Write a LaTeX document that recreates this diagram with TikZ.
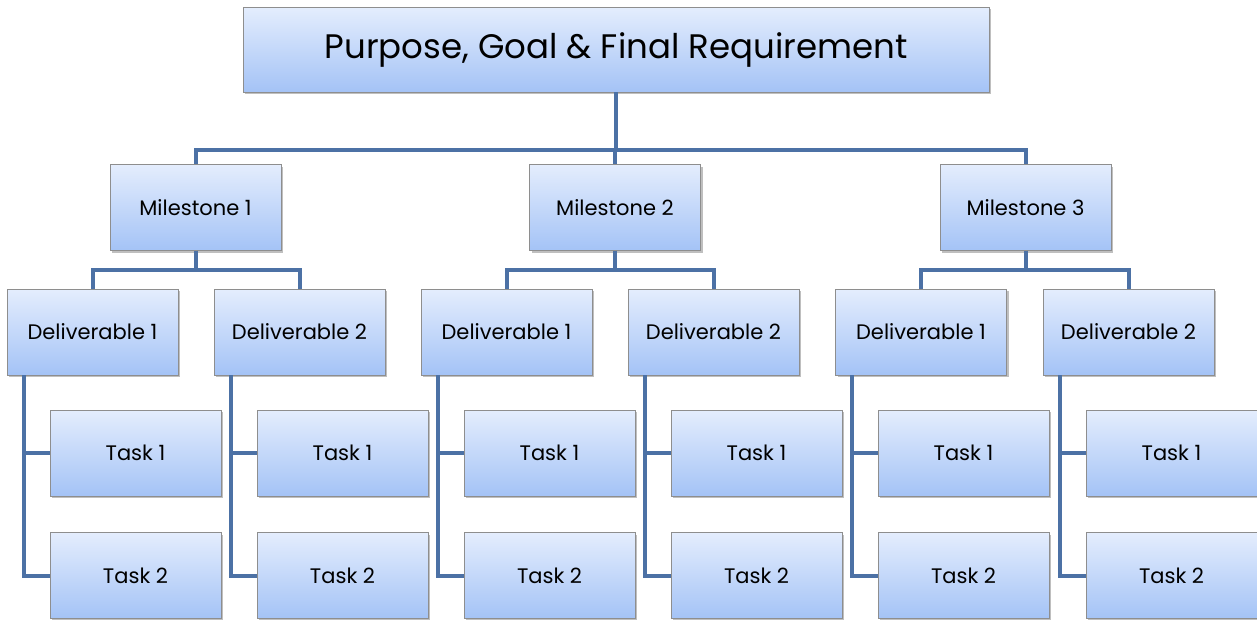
\documentclass[tikz,border=0pt]{standalone}
\usepackage{fontspec}
\setmainfont{Poppins}
\usetikzlibrary{shadows}

\definecolor{boxtop}{HTML}{E4EDFD}
\definecolor{boxbottom}{HTML}{A4C3F6}
\definecolor{boxedge}{HTML}{8E8E8E}
\definecolor{linkblue}{HTML}{4C71A5}

\begin{document}
\begin{tikzpicture}[x=1pt,y=-1pt,
    wbs/.style ={rectangle, draw=boxedge, line width=0.8pt, top color=boxtop, bottom color=boxbottom,
                 drop shadow={shadow xshift=2pt, shadow yshift=-2pt, fill=black, opacity=0.25},
                 minimum width=171pt, minimum height=86pt, inner sep=0pt, font=\fontsize{21}{24}\selectfont},
    goal/.style ={wbs, minimum width=746pt, minimum height=85pt, font=\fontsize{34}{40}\selectfont},
    link/.style ={draw=linkblue, line width=4pt}]
   \useasboundingbox (0,0) rectangle (1257,619);

   \node[goal] (P)  at (616,49.5)  {Purpose, Goal \& Final Requirement};

   \node[wbs] (M1)  at (195.5,207.5)  {Milestone 1};
   \node[wbs] (M2)  at (615,207.5)  {Milestone 2};
   \node[wbs] (M3)  at (1025.5,207.5)  {Milestone 3};

   \node[wbs] (D11)  at (92.5,332)  {Deliverable 1};
   \node[wbs] (D12)  at (299.5,332)  {Deliverable 2};
   \node[wbs] (D21)  at (506.5,332)  {Deliverable 1};
   \node[wbs] (D22)  at (713.5,332)  {Deliverable 2};
   \node[wbs] (D31)  at (921,332)  {Deliverable 1};
   \node[wbs] (D32)  at (1128.5,332)  {Deliverable 2};

   \node[wbs] (T111)  at (135.5,453)  {Task 1};
   \node[wbs] (T112)  at (135.5,575.5)  {Task 2};
   \node[wbs] (T121)  at (342.5,453)  {Task 1};
   \node[wbs] (T122)  at (342.5,575.5)  {Task 2};
   \node[wbs] (T211)  at (549.5,453)  {Task 1};
   \node[wbs] (T212)  at (549.5,575.5)  {Task 2};
   \node[wbs] (T221)  at (756.5,453)  {Task 1};
   \node[wbs] (T222)  at (756.5,575.5)  {Task 2};
   \node[wbs] (T311)  at (963.5,453)  {Task 1};
   \node[wbs] (T312)  at (963.5,575.5)  {Task 2};
   \node[wbs] (T321)  at (1171.5,453)  {Task 1};
   \node[wbs] (T322)  at (1171.5,575.5)  {Task 2};

   \draw[link] (P.south) -- ++(0,58) -| (M1.north);
   \draw[link] (P.south) -- ++(0,58) -| (M2.north);
   \draw[link] (P.south) -- ++(0,58) -| (M3.north);

   \draw[link] (M1.south) -- ++(0,19) -| (D11.north);
   \draw[link] (M1.south) -- ++(0,19) -| (D12.north);
   \draw[link] (M2.south) -- ++(0,19) -| (D21.north);
   \draw[link] (M2.south) -- ++(0,19) -| (D22.north);
   \draw[link] (M3.south) -- ++(0,19) -| (D31.north);
   \draw[link] (M3.south) -- ++(0,19) -| (D32.north);

   \draw[link] ([xshift=17pt]D11.south west) |- (T111.west);
   \draw[link] ([xshift=17pt]D11.south west) |- (T112.west);
   \draw[link] ([xshift=17pt]D12.south west) |- (T121.west);
   \draw[link] ([xshift=17pt]D12.south west) |- (T122.west);
   \draw[link] ([xshift=17pt]D21.south west) |- (T211.west);
   \draw[link] ([xshift=17pt]D21.south west) |- (T212.west);
   \draw[link] ([xshift=17pt]D22.south west) |- (T221.west);
   \draw[link] ([xshift=17pt]D22.south west) |- (T222.west);
   \draw[link] ([xshift=17pt]D31.south west) |- (T311.west);
   \draw[link] ([xshift=17pt]D31.south west) |- (T312.west);
   \draw[link] ([xshift=17pt]D32.south west) |- (T321.west);
   \draw[link] ([xshift=17pt]D32.south west) |- (T322.west);
\end{tikzpicture}
\end{document}
